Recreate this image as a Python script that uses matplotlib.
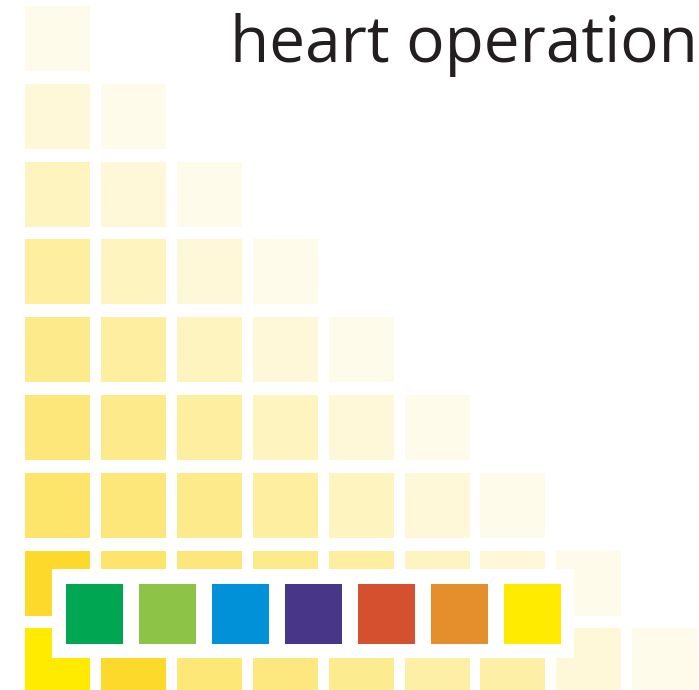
import matplotlib
matplotlib.use("Agg")
import matplotlib.pyplot as plt
from matplotlib.patches import Rectangle
from matplotlib.colors import to_rgb

# shading of each cell, row by row from the top (lower triangle)
shade = [
    [0.10],
    [0.18, 0.10],
    [0.30, 0.18, 0.10],
    [0.45, 0.30, 0.18, 0.10],
    [0.55, 0.45, 0.30, 0.18, 0.10],
    [0.62, 0.55, 0.45, 0.30, 0.18, 0.10],
    [0.70, 0.62, 0.55, 0.45, 0.30, 0.18, 0.10],
    [1.00, 0.70, 0.62, 0.55, 0.45, 0.30, 0.18, 0.10],
    [1.00, 1.00, 0.64, 0.60, 0.52, 0.42, 0.42, 0.18, 0.10],
]
highlight_cell = (8, 0)
legend_colors = ["#00A651", "#8DC447", "#0091D8", "#483788",
                 "#D4502F", "#E48F2B", "#FFEB00"]
title = "heart operation"

base = to_rgb("#FCD92A")
highlight = "#FFEB00"

def blend(a):
    return tuple(1 - a * (1 - c) for c in base)

W, H = 699, 690
fig = plt.figure(figsize=(W / 100, H / 100), dpi=100)
ax = fig.add_axes([0, 0, 1, 1])
ax.set_xlim(0, W)
ax.set_ylim(H, 0)
ax.axis("off")

# grid geometry (pixels)
x0, y0 = 25, 6
px, py = 75.9, 77.8
cw, ch = 65, 65

for r, row in enumerate(shade):
    for c, v in enumerate(row):
        col = highlight if (r, c) == highlight_cell else blend(v)
        ax.add_patch(Rectangle((x0 + c * px, y0 + r * py), cw, ch,
                               facecolor=col, edgecolor="none"))

# legend strip
ax.add_patch(Rectangle((52, 569), 522, 89, facecolor="white",
                       edgecolor="none", zorder=3))
for i, col in enumerate(legend_colors):
    ax.add_patch(Rectangle((66 + i * 73, 584), 57, 60, facecolor=col,
                           edgecolor="none", zorder=4))

ax.text(698, 62, title, ha="right", va="baseline", fontsize=46,
        family=["Open Sans", "DejaVu Sans"], color="#231F20")

fig.savefig("out.png", dpi=100)
